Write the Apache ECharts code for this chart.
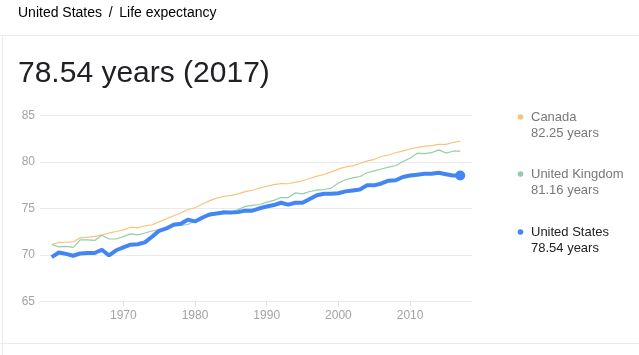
<!DOCTYPE html>
<html>
<head>
<meta charset="utf-8">
<script src="https://cdn.jsdelivr.net/npm/echarts@6/dist/echarts.min.js"></script>
<style>
html,body{margin:0;padding:0;background:#fff;}
#c{width:639px;height:355px;}
</style>
</head>
<body>
<div id="c"></div>
<script>
var years = [];
for (var y = 1960; y <= 2017; y++) years.push(y);

var canada = [71.13,71.35,71.37,71.42,71.84,71.90,72.00,72.17,72.37,72.53,
  72.70,72.99,72.92,73.14,73.25,73.56,73.88,74.22,74.52,74.89,
  75.08,75.48,75.82,76.12,76.29,76.42,76.57,76.81,76.96,77.20,
  77.38,77.56,77.67,77.66,77.84,77.98,78.23,78.48,78.66,78.94,
  79.24,79.48,79.59,79.84,80.09,80.29,80.59,80.75,80.99,81.20,
  81.40,81.55,81.70,81.76,81.90,81.90,82.10,82.25];

var uk = [71.13,70.88,70.93,70.82,71.62,71.62,71.57,72.12,71.72,71.72,
  71.97,72.27,72.17,72.37,72.58,72.73,72.73,73.18,73.18,73.28,
  73.68,74.03,74.18,74.38,74.78,74.63,74.88,75.23,75.33,75.43,
  75.68,75.88,76.18,76.18,76.68,76.58,76.83,76.98,77.04,77.19,
  77.74,78.09,78.29,78.44,78.84,79.05,79.25,79.45,79.60,80.05,
  80.40,80.95,80.90,81.00,81.30,80.96,81.16,81.16];

var us = [69.77,70.27,70.12,69.92,70.17,70.21,70.21,70.56,69.95,70.51,
  70.81,71.11,71.16,71.36,71.96,72.60,72.86,73.26,73.36,73.80,
  73.61,74.01,74.36,74.46,74.56,74.56,74.61,74.77,74.77,75.02,
  75.21,75.37,75.62,75.42,75.62,75.62,76.03,76.43,76.58,76.58,
  76.64,76.84,76.94,77.04,77.49,77.49,77.69,77.99,78.04,78.39,
  78.54,78.64,78.74,78.74,78.84,78.69,78.54,78.54];

var xTicks = [1970, 1980, 1990, 2000, 2010];
var yTicks = [65, 70, 75, 80, 85];
var seriesNames = ['Canada', 'United Kingdom', 'United States'];
var seriesColors = ['#f7c47e', '#92cfa8', '#4285f4'];

function pairs(vals) { return years.map(function (yr, i) { return [yr, vals[i]]; }); }
var allVals = [canada, uk, us];
var lastYear = years[years.length - 1];

var chart = echarts.init(document.getElementById('c'));

var FONT = 'Arial, "Liberation Sans", sans-serif';
var legendGraphics = [];
var legendY = [117, 174, 232];
seriesNames.forEach(function (n, i) {
  var last = allVals[i][allVals[i].length - 1];
  var dark = (i === 2);
  legendGraphics.push({
    type: 'circle', shape: { cx: 520.5, cy: legendY[i], r: 2.8 },
    style: { fill: seriesColors[i] }
  });
  legendGraphics.push({
    type: 'text', x: 531, y: legendY[i],
    style: { text: n, font: '13px ' + FONT, fill: dark ? '#222222' : '#777777', verticalAlign: 'middle' }
  });
  legendGraphics.push({
    type: 'text', x: 531, y: legendY[i] + 16,
    style: { text: last.toFixed(2) + ' years', font: '13px ' + FONT, fill: dark ? '#222222' : '#777777', verticalAlign: 'middle' }
  });
});

var option = {
  backgroundColor: '#ffffff',
  animation: false,
  grid: { left: 40, right: 639 - 472, top: 115.5, bottom: 355 - 301.5, containLabel: false },
  xAxis: {
    type: 'value',
    min: 1958.37,
    max: 2018.64,
    axisLine: { show: true, lineStyle: { color: '#e8e8e8', width: 1 } },
    axisTick: { show: true, length: 5, lineStyle: { color: '#e0e0e0' }, customValues: xTicks },
    axisLabel: { color: '#a3a3a3', fontSize: 12, fontFamily: FONT, margin: 8, customValues: xTicks,
      formatter: function (v) { return String(v); } },
    splitLine: { show: false }
  },
  yAxis: {
    type: 'value',
    min: 65, max: 85, interval: 5,
    axisLine: { show: false },
    axisTick: { show: false },
    axisLabel: { color: '#a3a3a3', fontSize: 12, fontFamily: FONT, margin: 5 },
    splitLine: { show: true, lineStyle: { color: '#ebebeb', width: 1 } }
  },
  series: [
    { name: seriesNames[0], type: 'line', data: pairs(canada), showSymbol: false, symbol: 'none',
      lineStyle: { color: seriesColors[0], width: 1.2 }, z: 2 },
    { name: seriesNames[1], type: 'line', data: pairs(uk), showSymbol: false, symbol: 'none',
      lineStyle: { color: seriesColors[1], width: 1.2 }, z: 3 },
    { name: seriesNames[2], type: 'line', data: pairs(us), showSymbol: false, symbol: 'none',
      lineStyle: { color: seriesColors[2], width: 4 }, z: 4 },
    { name: 'end', type: 'scatter', data: [[lastYear, us[us.length - 1]]], symbolSize: 10,
      itemStyle: { color: seriesColors[2], opacity: 1 }, z: 5 }
  ],
  graphic: [
    { type: 'text', x: 18, y: 13,
      style: { text: '{a|United States}  {b|/}  {b|Life expectancy}', verticalAlign: 'middle',
        rich: {
          a: { fontSize: 14, fontFamily: FONT, color: '#80868b' },
          b: { fontSize: 14, fontFamily: FONT, color: '#222222' }
        } } },
    { type: 'rect', shape: { x: 0, y: 35, width: 639, height: 1 }, style: { fill: '#ebebeb' } },
    { type: 'rect', shape: { x: 2, y: 35, width: 1, height: 320 }, style: { fill: '#ebebeb' } },
    { type: 'rect', shape: { x: 0, y: 343, width: 639, height: 1 }, style: { fill: '#ebebeb' } },
    { type: 'text', x: 18, y: 74,
      style: { text: '78.54 years (2017)', font: '30px ' + FONT, fill: '#202124', verticalAlign: 'middle' } }
  ].concat(legendGraphics)
};
chart.setOption(option);
</script>
</body>
</html>
